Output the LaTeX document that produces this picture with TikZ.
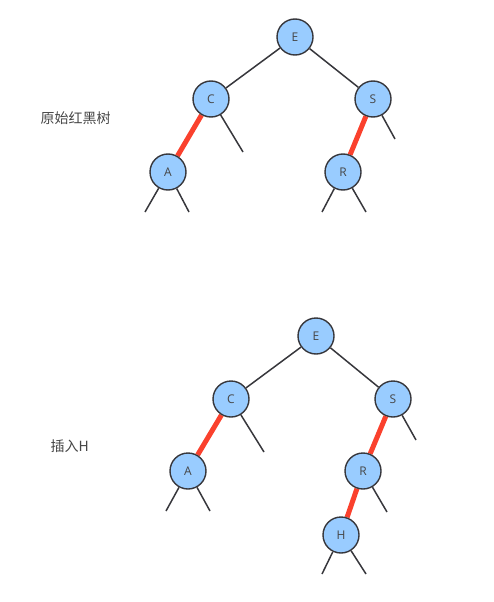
\documentclass[tikz,border=0pt]{standalone}
\usepackage{fontspec}
\setmainfont{Open Sans}
\newfontfamily\cjk{Noto Sans CJK SC}
\usetikzlibrary{backgrounds}
\definecolor{nodeblue}{RGB}{153,204,255}
\definecolor{rim}{RGB}{55,55,60}
\definecolor{redlink}{RGB}{250,65,45}
\definecolor{greytext}{RGB}{70,70,70}
\tikzset{
  rb/.style={circle,draw=rim,line width=1.4pt,fill=nodeblue,minimum size=36pt,inner sep=0pt,
    font=\fontsize{12}{14}\selectfont,text=greytext},
  blacklink/.style={draw=rim,line width=1.5pt},
  redlink/.style={draw=redlink,line width=5pt},
  caption/.style={font=\cjk\fontsize{14}{16}\selectfont,text=greytext,anchor=west},
}
\begin{document}
\begin{tikzpicture}[x=1pt,y=-1pt]
  \useasboundingbox (0,0) rectangle (493,602);
  % original tree
  \node[caption] (t1) at (37,118) {原始红黑树};
  \node[rb] (e1) at (295,37) {E};
  \node[rb] (c1) at (211,99) {C};
  \node[rb] (s1) at (373,99) {S};
  \node[rb] (a1) at (168,172) {A};
  \node[rb] (r1) at (343,172) {R};
  \coordinate (c1r) at (243,152);
  \coordinate (s1r) at (395,139);
  \coordinate (a1l) at (145,212);
  \coordinate (a1r) at (189,212);
  \coordinate (r1l) at (322,212);
  \coordinate (r1r) at (366,212);
  \begin{scope}[on background layer]
    \draw[blacklink] (e1) -- (c1);
    \draw[blacklink] (e1) -- (s1);
    \draw[redlink] (c1) -- (a1);
    \draw[redlink] (s1) -- (r1);
    \foreach \n/\p in {c1/c1r,s1/s1r,a1/a1l,a1/a1r,r1/r1l,r1/r1r}
      \draw[blacklink] (\n) -- (\p);
  \end{scope}
  % after inserting H
  \node[caption] (t2) at (47,446) {插入H};
  \node[rb] (e2) at (316,336) {E};
  \node[rb] (c2) at (231,399) {C};
  \node[rb] (s2) at (393,399) {S};
  \node[rb] (a2) at (188,471) {A};
  \node[rb] (r2) at (363,471) {R};
  \node[rb] (h2) at (341,535) {H};
  \coordinate (c2r) at (264,452);
  \coordinate (s2r) at (416,440);
  \coordinate (a2l) at (166,511);
  \coordinate (a2r) at (210,511);
  \coordinate (r2r) at (387,512);
  \coordinate (h2l) at (322,574);
  \coordinate (h2r) at (366,574);
  \begin{scope}[on background layer]
    \draw[blacklink] (e2) -- (c2);
    \draw[blacklink] (e2) -- (s2);
    \draw[redlink] (c2) -- (a2);
    \draw[redlink] (s2) -- (r2);
    \draw[redlink] (r2) -- (h2);
    \foreach \n/\p in {c2/c2r,s2/s2r,a2/a2l,a2/a2r,r2/r2r,h2/h2l,h2/h2r}
      \draw[blacklink] (\n) -- (\p);
  \end{scope}
\end{tikzpicture}
\end{document}
